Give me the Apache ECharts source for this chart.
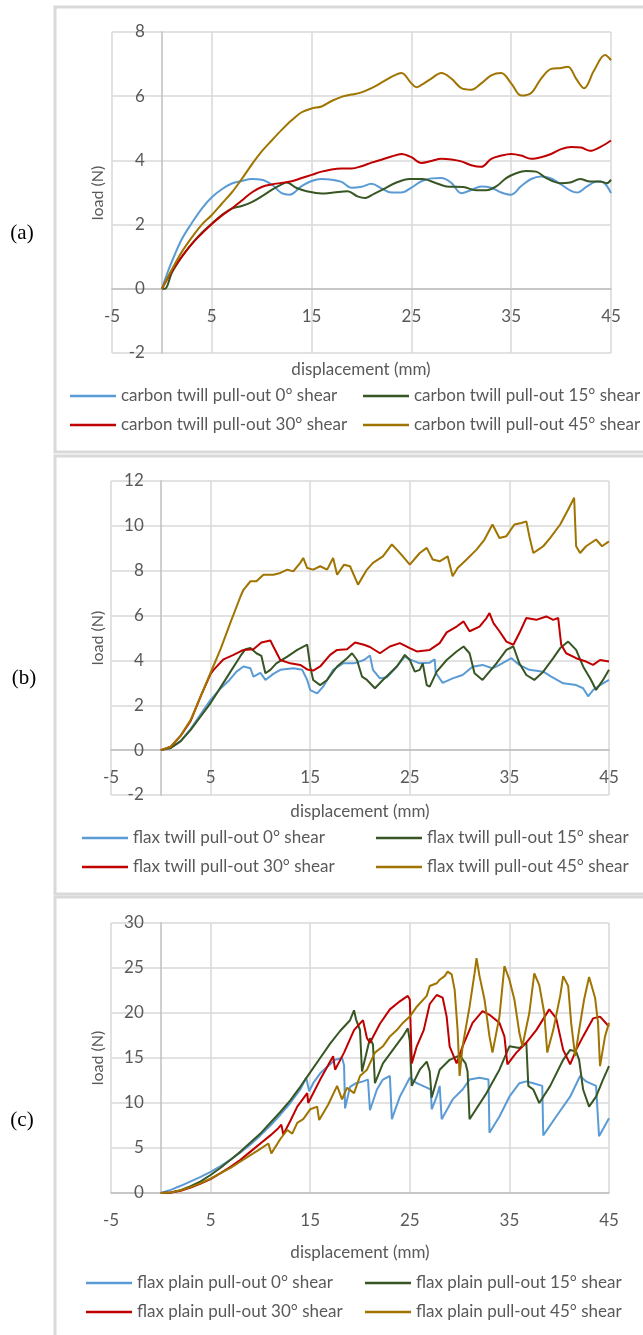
<!DOCTYPE html>
<html><head><meta charset="utf-8">
<script src="https://cdn.jsdelivr.net/npm/echarts@6/dist/echarts.min.js"></script>
<style>html,body{margin:0;padding:0;background:#fff;}#c{width:643px;height:1335px;}</style>
</head><body><div id="c"></div>
<script>
// ---------- tick settings ----------
const xMin = -5, xMax = 45, xStep = 10;
const yRangeA = [-2, 8, 2];
const yRangeB = [-2, 12, 2];
const yRangeC = [0, 30, 5];
const xTitle = 'displacement (mm)';
const yTitle = 'load (N)';

// ---------- series names ----------
const namesA = ['carbon twill pull-out 0° shear','carbon twill pull-out 15° shear','carbon twill pull-out 30° shear','carbon twill pull-out 45° shear'];
const namesB = ['flax twill pull-out 0° shear','flax twill pull-out 15° shear','flax twill pull-out 30° shear','flax twill pull-out 45° shear'];
const namesC = ['flax plain pull-out 0° shear','flax plain pull-out 15° shear','flax plain pull-out 30° shear','flax plain pull-out 45° shear'];

// ---------- (a) carbon twill: [displacement mm, load N] ----------
const a0 = [[0,0],[0.5,0.45],[1,0.85],[2,1.55],[3,2.05],[4,2.5],[5,2.85],[6,3.1],[7,3.28],[8,3.36],[9,3.42],[10,3.4],[11,3.25],[12,2.98],[12.8,2.93],[14,3.2],[15,3.36],[16,3.42],[17,3.4],[18,3.33],[19,3.15],[20,3.18],[21,3.27],[22,3.13],[23,3.0],[24,3.0],[25,3.15],[26,3.35],[27,3.44],[28,3.45],[29,3.3],[30,2.98],[31,3.08],[32,3.19],[33,3.15],[34,3.0],[35,2.93],[36,3.2],[37,3.42],[38,3.5],[39,3.44],[40,3.25],[41,3.05],[41.6,3.0],[42.6,3.19],[43.6,3.34],[44.3,3.3],[45,2.98]];
const a15 = [[0,0],[0.3,0],[1,0.5],[2,1.0],[3,1.4],[4,1.75],[5,2.03],[6,2.3],[7,2.5],[8,2.58],[9,2.7],[10,2.88],[11,3.08],[12,3.25],[12.5,3.31],[13.5,3.14],[14.5,3.04],[16,2.97],[17.2,3.0],[18.6,3.04],[19.6,2.88],[20.4,2.83],[21.2,2.95],[22.1,3.09],[23.5,3.31],[24.8,3.42],[26.1,3.42],[27.5,3.29],[28.5,3.19],[30.2,3.17],[31.5,3.07],[32.5,3.07],[33.5,3.19],[34.5,3.45],[35.5,3.6],[36.5,3.67],[37.5,3.65],[38.5,3.45],[39.9,3.29],[40.9,3.31],[41.9,3.42],[42.9,3.34],[43.9,3.34],[44.6,3.29],[45,3.4]];
const a30 = [[0,0],[1,0.55],[2,1.0],[3,1.4],[4,1.72],[5,2.02],[6,2.28],[7,2.5],[8,2.75],[9,3.0],[10,3.17],[11,3.25],[12,3.3],[13,3.35],[14,3.45],[15,3.55],[16,3.65],[17,3.72],[18,3.75],[19,3.75],[20,3.82],[21,3.93],[22,4.02],[23,4.12],[24,4.2],[25,4.1],[26,3.92],[27,3.98],[28,4.05],[29,4.03],[30,3.97],[31,3.85],[32,3.8],[33,4.05],[34,4.15],[35,4.2],[36,4.15],[37,4.05],[38,4.1],[39,4.2],[40,4.35],[41,4.42],[42,4.4],[42.9,4.3],[44,4.43],[45,4.62]];
const a45 = [[0,0],[1,0.6],[2,1.15],[3,1.6],[4,2.0],[5,2.3],[6,2.65],[7,3.0],[8,3.42],[9,3.87],[10,4.28],[11,4.62],[12,4.95],[13,5.25],[14,5.5],[15,5.62],[16,5.68],[17,5.85],[18,5.98],[19,6.05],[20,6.12],[21,6.25],[22,6.42],[23,6.6],[24,6.72],[25,6.4],[25.5,6.28],[26,6.35],[27,6.55],[28,6.72],[29,6.55],[30,6.25],[31,6.2],[32,6.4],[33,6.65],[34,6.72],[35,6.4],[36,6.02],[37,6.1],[38,6.55],[39,6.85],[40,6.88],[40.7,6.92],[41.5,6.55],[42.3,6.25],[43.3,6.8],[44.4,7.28],[45,7.12]];

// ---------- (b) flax twill ----------
const b0 = [[0,0],[1,0.1],[2,0.4],[3,0.95],[4,1.6],[5,2.24],[6,2.75],[6.9,3.13],[7.6,3.5],[8.3,3.73],[9.0,3.65],[9.3,3.28],[10,3.45],[10.5,3.13],[11.3,3.4],[12,3.58],[13.3,3.65],[14.2,3.58],[14.7,3.13],[15,2.68],[15.7,2.53],[16.3,2.83],[17.3,3.58],[18.3,3.87],[19.4,3.87],[20.4,4.02],[21,4.22],[21.3,3.58],[22,3.2],[22.7,3.25],[23.7,3.73],[24.5,4.17],[25,4.05],[26,3.87],[27,3.9],[27.5,4.05],[27.6,3.45],[28.3,3.0],[29.3,3.2],[30.3,3.35],[31.3,3.72],[32.3,3.8],[33.3,3.65],[34,3.8],[35.2,4.1],[36,3.8],[37,3.58],[38.4,3.5],[39.2,3.28],[40.4,2.98],[41.7,2.9],[42.4,2.76],[42.9,2.4],[43.4,2.68],[44.1,2.9],[45,3.13]];
const b15 = [[0,0],[1,0.1],[2,0.4],[3,0.9],[4,1.5],[5,2.1],[6,2.8],[7,3.5],[8,4.2],[8.5,4.5],[9.0,4.55],[9.6,4.32],[10.1,4.2],[10.5,3.43],[11.0,3.58],[11.6,3.87],[12.7,4.17],[13.7,4.47],[14.7,4.7],[15.0,3.73],[15.3,3.13],[16.0,2.9],[16.7,3.13],[17.7,3.73],[18.7,4.1],[19.2,4.32],[19.7,4.02],[20.2,3.28],[20.7,3.13],[21.5,2.76],[22.3,3.13],[23.7,3.73],[24.5,4.25],[25.0,4.02],[25.5,3.5],[26.0,3.58],[26.3,3.87],[26.7,2.9],[27.0,2.83],[27.7,3.5],[28.7,4.02],[29.7,4.4],[30.4,4.62],[31.0,4.32],[31.5,3.43],[32.3,3.13],[33.0,3.5],[33.7,3.87],[34.7,4.47],[35.4,4.62],[36.0,3.87],[36.7,3.35],[37.5,3.13],[38.4,3.5],[39.4,4.1],[40.1,4.55],[40.9,4.84],[41.7,4.47],[42.4,3.73],[43.2,3.13],[43.7,2.68],[44.4,3.13],[45,3.58]];
const b30 = [[0,0],[1,0.15],[2,0.65],[3,1.3],[4,2.4],[5,3.4],[5.3,3.58],[6.3,4.05],[7.3,4.25],[8.3,4.47],[9.3,4.5],[10.1,4.8],[11,4.89],[11.3,4.62],[12,4.02],[13,3.87],[14,3.8],[14.7,3.6],[15.3,3.55],[16,3.73],[17,4.25],[17.7,4.47],[18.7,4.5],[19.5,4.8],[20.4,4.7],[21,4.6],[22,4.32],[23,4.62],[24,4.77],[25,4.55],[25.7,4.4],[27,4.47],[28,4.77],[28.7,5.25],[29.7,5.51],[30.4,5.74],[31,5.3],[32,5.51],[32.7,5.89],[33,6.11],[33.4,5.66],[34,5.3],[34.7,4.84],[35.4,4.7],[36,5.22],[36.7,5.89],[37.7,5.81],[38.7,5.96],[39.4,5.81],[39.9,5.89],[40.2,4.7],[40.7,4.32],[41.7,4.1],[42.7,3.95],[43.4,3.8],[44.1,4.02],[45,3.95]];
const b45 = [[0,0],[1,0.15],[2,0.65],[3,1.35],[4,2.4],[5,3.45],[6,4.5],[7,5.7],[8,6.85],[8.3,7.15],[9.0,7.53],[9.6,7.53],[10.3,7.82],[11.3,7.82],[12.0,7.9],[12.7,8.05],[13.3,7.97],[14.0,8.35],[14.3,8.57],[14.7,8.12],[15.3,8.05],[16.0,8.2],[16.7,8.05],[17.3,8.57],[17.7,7.82],[18.4,8.27],[19.0,8.2],[19.8,7.38],[20.0,7.3],[20.7,8.05],[21.3,8.35],[22.3,8.64],[23.2,9.17],[23.7,8.94],[24.3,8.64],[25.0,8.27],[26.0,8.79],[26.7,9.02],[27.3,8.5],[28.0,8.42],[28.8,8.64],[29.3,7.75],[29.8,8.12],[30.7,8.5],[31.7,8.94],[32.5,9.39],[33.3,10.06],[34.0,9.46],[34.7,9.54],[35.5,10.06],[36.2,10.13],[36.7,10.2],[37.0,9.54],[37.4,8.79],[37.9,8.94],[38.4,9.09],[39.1,9.46],[40.1,10.06],[40.9,10.73],[41.5,11.25],[41.7,9.09],[42.1,8.79],[42.7,9.09],[43.7,9.39],[44.3,9.09],[45,9.31]];

// ---------- (c) flax plain ----------
const c0 = [[0,0],[1,0.35],[2,0.8],[3,1.3],[4,1.8],[5,2.35],[6,3.0],[7,3.7],[8,4.5],[9,5.4],[10,6.4],[11,7.5],[12,8.7],[13,10.0],[14,11.5],[14.6,12.8],[14.8,13.0],[14.9,11.3],[15.3,12.2],[16,13.3],[17,14.3],[17.5,14.8],[18.2,15.0],[18.4,14.2],[18.5,9.4],[19.0,11.8],[19.6,12.2],[20.3,12.4],[20.8,12.6],[21.0,9.2],[21.7,11.5],[22.3,12.6],[23.0,13.0],[23.2,8.2],[24.0,10.7],[25.0,12.8],[25.7,12.2],[26.7,11.7],[27.1,11.5],[27.2,9.3],[27.7,10.7],[28.0,11.9],[28.2,8.2],[29.3,10.4],[30.3,11.5],[31.0,12.6],[32.0,12.8],[32.9,12.6],[33.0,6.7],[34.0,8.5],[35.0,10.7],[36.0,12.2],[36.7,12.4],[37.4,12.2],[38.3,11.9],[38.4,6.4],[39.7,8.5],[41.1,10.7],[42.1,13.0],[42.7,12.4],[43.7,11.9],[43.9,11.8],[44.0,6.3],[45,8.3]];
const c15 = [[0,0],[1,0.05],[2,0.3],[3,0.75],[4,1.3],[5,2.0],[6,2.8],[7,3.7],[8,4.6],[9,5.6],[10,6.6],[11,7.8],[12,9.0],[13,10.3],[14,11.8],[15,13.4],[16,15.0],[17,16.6],[18,18.0],[19,19.2],[19.4,20.3],[19.6,19.3],[20.0,18.1],[20.2,13.5],[21.0,17.2],[21.3,16.5],[21.5,12.2],[22.3,14.4],[23.3,15.9],[24.3,17.4],[24.8,18.3],[25.0,16.9],[25.2,11.9],[26.0,13.7],[26.7,14.6],[27.0,13.5],[27.2,10.6],[28.0,13.7],[29.0,14.8],[30.0,15.3],[30.6,14.4],[30.8,13.5],[31.0,8.2],[32.7,11.1],[34.0,13.7],[35.0,16.3],[36.0,16.1],[36.7,16.7],[36.9,11.9],[37.4,11.5],[38.0,10.0],[39.1,11.9],[40.4,14.8],[41.1,15.9],[41.7,15.7],[42.0,14.8],[42.4,11.5],[43.0,9.6],[43.7,10.7],[44.4,12.6],[45,14.1]];
const c30 = [[0,0],[1,0.05],[2,0.25],[3,0.6],[4,1.05],[5,1.55],[6,2.2],[7,2.9],[8,3.7],[9,4.6],[10,5.5],[11,6.4],[11.8,7.2],[12.1,7.6],[12.3,6.5],[13,8.0],[13.7,9.6],[14.7,11.1],[14.8,10.0],[16,12.6],[17.3,15.2],[17.5,13.7],[18.4,15.6],[19.4,18.1],[20.3,19.2],[20.7,17.2],[21.0,16.7],[22.0,18.8],[23.0,20.4],[24.0,21.3],[24.8,21.9],[25.0,21.5],[25.2,14.4],[25.7,16.3],[26.4,18.1],[27.0,21.0],[27.7,22.0],[28.3,21.7],[28.7,19.6],[29.0,16.3],[29.7,14.4],[30.3,16.3],[31.3,18.9],[32.3,20.2],[33.0,19.8],[34.0,18.9],[34.5,17.4],[34.8,14.3],[35.7,15.6],[36.7,16.7],[37.7,18.1],[39.0,20.4],[39.7,19.4],[40.4,15.9],[41.1,14.3],[41.7,15.9],[42.4,17.4],[43.4,19.4],[44.1,19.6],[45,18.5]];
const c45 = [[0,0],[1,0.05],[2,0.3],[3,0.65],[4,1.1],[5,1.6],[6,2.2],[7,2.8],[8,3.5],[9,4.2],[10,4.9],[10.8,5.5],[11.1,4.4],[12.0,6.0],[12.7,7.0],[13.2,6.6],[13.7,7.8],[14.3,8.2],[15.0,9.3],[15.7,9.6],[15.9,8.1],[16.8,9.8],[17.7,11.9],[18.2,10.4],[18.7,11.7],[19.4,11.1],[20.0,13.0],[20.7,13.7],[21.5,15.6],[22.3,16.3],[23.0,17.4],[23.7,18.1],[24.3,18.9],[25.0,19.6],[25.7,20.7],[26.7,21.9],[27.0,23.0],[27.7,23.3],[28.0,23.7],[28.5,24.1],[28.8,24.6],[29.2,24.3],[29.5,22.6],[29.8,18.1],[30.0,13.0],[30.3,16.3],[31.0,20.7],[31.5,24.4],[31.7,26.1],[32.0,24.1],[32.5,21.5],[33.0,17.4],[33.3,15.6],[34.0,19.6],[34.5,25.2],[35.0,23.7],[35.5,21.5],[36.0,17.8],[36.3,16.3],[37.0,20.0],[37.5,24.4],[38.0,23.1],[38.5,20.0],[38.8,15.6],[39.4,18.1],[40.1,21.9],[40.4,24.1],[40.9,23.0],[41.2,18.9],[41.6,15.2],[42.0,18.1],[42.5,21.5],[43.0,24.0],[43.6,21.7],[43.9,18.9],[44.1,14.1],[44.6,17.4],[45,18.9]];

// ---------- styling ----------
const colors = ['#5B9BD5', '#375623', '#C00000', '#A07400'];
const FONT = "Lato, 'Open Sans', sans-serif";
const TXT = '#595959';
const GRIDC = '#D9D9D9';

const grids = [
  {left:112, top:32, width:499, height:321},
  {left:111, top:481, width:498, height:314},
  {left:111, top:923, width:498, height:270}
];
const yRanges = [yRangeA, yRangeB, yRangeC];
const panels = [
  {names:namesA, data:[a0,a15,a30,a45], smooth:0.35},
  {names:namesB, data:[b0,b15,b30,b45], smooth:false},
  {names:namesC, data:[c0,c15,c30,c45], smooth:false}
];
const legendRows = [[396,425],[838,867],[1283,1312]];
const legendCols = [[70,363],[82,376],[86,365]];
const xTitlePos = [[361,370],[360,812],[360,1253]];
const yTitlePos = [[98,193],[98,638],[98,1058]];

// axes crossing at zero: shift each axis from the grid edge to the other axis' zero
const xAxes = grids.map((g,i)=>({
  gridIndex:i, type:'value', min:xMin, max:xMax, interval:xStep,
  position:'bottom',
  offset: -g.height * (0 - yRanges[i][0]) / (yRanges[i][1] - yRanges[i][0]),
  axisLine:{show:true, onZero:false, lineStyle:{color:'#BFBFBF', width:1.5}},
  axisTick:{show:false},
  axisLabel:{color:TXT, fontSize:17, fontFamily:FONT, margin:19},
  splitLine:{show:true, lineStyle:{color:GRIDC, width:1.5}}
}));
const yAxes = grids.map((g,i)=>({
  gridIndex:i, type:'value', min:yRanges[i][0], max:yRanges[i][1], interval:yRanges[i][2],
  position:'left',
  offset: -g.width * (0 - xMin) / (xMax - xMin),
  axisLine:{show:true, onZero:false, lineStyle:{color:'#BFBFBF', width:1.5}},
  axisTick:{show:false},
  axisLabel:{color:TXT, fontSize:17, fontFamily:FONT, margin:17},
  splitLine:{show:true, lineStyle:{color:GRIDC, width:1.5}}
}));

const series = [];
const legends = [];
panels.forEach((p,pi)=>{
  p.data.forEach((d,si)=>{
    series.push({
      name:p.names[si], type:'line', xAxisIndex:pi, yAxisIndex:pi,
      data:d, showSymbol:false, symbol:'none', smooth:p.smooth,
      lineStyle:{width:2, color:colors[si]}, itemStyle:{color:colors[si]},
      animation:false, silent:true
    });
  });
  [0,1].forEach(col=>{
    legends.push({
      orient:'vertical', left:legendCols[pi][col], top:legendRows[pi][0]-10,
      itemGap:legendRows[pi][1]-legendRows[pi][0]-20, padding:0,
      icon:'rect', itemWidth:46, itemHeight:2.5,
      data:[p.names[col], p.names[col+2]],
      textStyle:{color:TXT, fontSize:17, fontFamily:FONT, lineHeight:20, padding:[0,0,0,0]},
      selectedMode:false
    });
  });
});

const frames = [[55,7,640,445],[55,456,640,438],[55,897,640,460]];
const labels = [['(a)',22,233],['(b)',24,678],['(c)',22,1120]];
const graphic = [];
frames.forEach(f=>graphic.push({type:'rect', z:-10, shape:{x:f[0],y:f[1],width:f[2],height:f[3]}, style:{fill:'none', stroke:'#D9D9D9', lineWidth:3}}));
labels.forEach(l=>graphic.push({type:'text', x:l[1], y:l[2], style:{text:l[0], font:"21px 'Liberation Serif', serif", fill:'#000', align:'center', verticalAlign:'middle'}}));
xTitlePos.forEach(p=>graphic.push({type:'text', x:p[0], y:p[1], style:{text:xTitle, font:"17px Lato, sans-serif", fill:TXT, align:'center', verticalAlign:'middle'}}));
yTitlePos.forEach(p=>graphic.push({type:'text', x:p[0], y:p[1], rotation:Math.PI/2, style:{text:yTitle, font:"16px Lato, sans-serif", fill:TXT, align:'center', verticalAlign:'middle'}}));

const chart = echarts.init(document.getElementById('c'), null, {renderer:'canvas'});
chart.setOption({
  animation:false,
  backgroundColor:'#fff',
  grid:grids.map(g=>Object.assign({containLabel:false}, g)),
  xAxis:xAxes, yAxis:yAxes,
  legend:legends,
  series:series,
  graphic:graphic
});
</script></body></html>
